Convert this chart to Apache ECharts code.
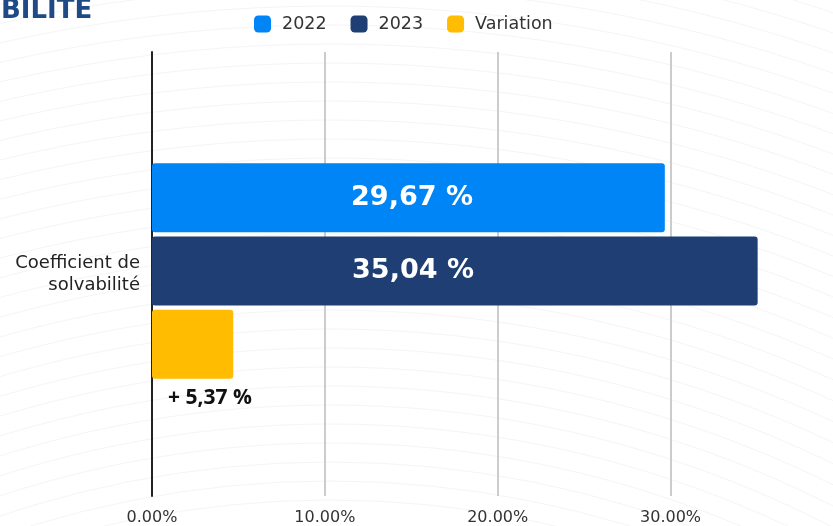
<!DOCTYPE html>
<html><head><meta charset="utf-8">
<script src="https://cdn.jsdelivr.net/npm/echarts@6/dist/echarts.min.js"></script>
<style>html,body{margin:0;padding:0;background:#fff}#c{width:833px;height:526px}</style>
</head><body><div id="c"></div>
<script>
const categories = ['Coefficient de\nsolvabilité'];
const seriesNames = ['2022', '2023', 'Variation'];
const values2022 = [29.67];
const values2023 = [35.04];
const valuesVariation = [4.7];
const labels2022 = ['29,67 %'];
const labels2023 = ['35,04 %'];
const labelsVariation = ['+ 5,37 %'];
const xMin = 0, xMax = 39.4, xStep = 10;

const FONT = '"DejaVu Sans", sans-serif';
const chart = echarts.init(document.getElementById('c'), null, {renderer: 'canvas'});

// faint decorative background arcs
const arcs = [];
for (let i = 0; i < 40; i++) {
  arcs.push({type: 'circle', shape: {cx: 330, cy: 1500, r: 1000 + i * 19}, style: {fill: null, stroke: '#f5f5f5', lineWidth: 1}, silent: true, z: -10});
}

chart.setOption({
  animation: false,
  backgroundColor: '#fff',
  title: {text: 'BILITE', left: -4, top: -7, textStyle: {color: '#1e4b87', fontSize: 26, fontWeight: 'bold', fontFamily: FONT}},
  graphic: arcs,
  legend: {
    top: 10, left: 249, itemWidth: 17, itemHeight: 17, itemGap: 24,
    icon: 'roundRect',
    textStyle: {fontSize: 17.5, color: '#333', fontFamily: FONT, padding: [0, 0, 0, 6]},
    data: seriesNames
  },
  grid: [
    {left: 152, right: 0, top: 52, bottom: 27, containLabel: false},
    {left: 152, right: 0, top: 43, bottom: 27, containLabel: false}
  ],
  xAxis: [
    {
      type: 'value', gridIndex: 0, min: xMin, max: xMax, interval: xStep,
      axisLine: {show: false}, axisTick: {show: false},
      splitLine: {showMaxLine: false, lineStyle: {color: '#cccccc', width: 2}},
      axisLabel: {formatter: v => v.toFixed(2) + '%', fontSize: 16, color: '#333', fontFamily: FONT, margin: 14, showMaxLabel: false}
    },
    {
      type: 'value', gridIndex: 1, min: xMin, max: xMax, interval: xStep, show: false,
      splitLine: {show: false}
    }
  ],
  yAxis: [
    {
      type: 'category', gridIndex: 0, data: categories,
      axisLine: {lineStyle: {color: '#222', width: 2}}, axisTick: {show: false},
      axisLabel: {fontSize: 18, color: '#222', fontFamily: FONT, align: 'right', lineHeight: 22, margin: 12}
    },
    {
      type: 'category', gridIndex: 1, data: categories, show: false
    }
  ],
  series: [
    {name: seriesNames[0], type: 'bar', xAxisIndex: 1, yAxisIndex: 1, data: values2022, barWidth: 69, barGap: '6%',
     itemStyle: {color: '#0085f7', borderRadius: 3},
     label: {show: true, position: [260, '50%'], align: 'center', verticalAlign: 'middle', color: '#fff', fontSize: 27, fontWeight: 'bold', fontFamily: FONT, formatter: p => labels2022[p.dataIndex]}},
    {name: seriesNames[1], type: 'bar', xAxisIndex: 1, yAxisIndex: 1, data: values2023, barWidth: 69, barGap: '6%',
     itemStyle: {color: '#1e3e74', borderRadius: 3},
     label: {show: true, position: [261, '50%'], align: 'center', verticalAlign: 'middle', color: '#fff', fontSize: 27, fontWeight: 'bold', fontFamily: FONT, formatter: p => labels2023[p.dataIndex]}},
    {name: seriesNames[2], type: 'bar', xAxisIndex: 1, yAxisIndex: 1, data: valuesVariation, barWidth: 69, barGap: '6%',
     itemStyle: {color: '#ffbc00', borderRadius: 3},
     label: {show: true, position: [16, 78], align: 'left', verticalAlign: 'top', color: '#111', fontSize: 21, fontWeight: 'bold', fontFamily: '"Open Sans", sans-serif', formatter: p => labelsVariation[p.dataIndex]}}
  ]
});
</script></body></html>
